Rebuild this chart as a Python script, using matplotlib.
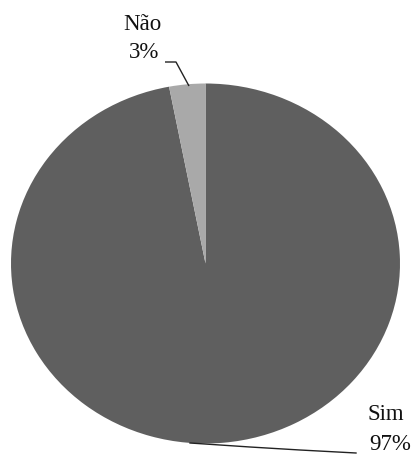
import matplotlib
matplotlib.use("Agg")
import matplotlib.pyplot as plt
import numpy as np

# Survey answer shares
categories = ["Sim", "Não"]
shares = [97, 3]
colors = ["#5f5f5f", "#a9a9a9"]

W, H, DPI = 414, 454, 100
fig = plt.figure(figsize=(W / DPI, H / DPI), dpi=DPI)
ax = fig.add_axes([0, 0, 1, 1])

ax.pie(shares, colors=colors, startangle=90, counterclock=False,
       radius=1.0, center=(0, 0), wedgeprops=dict(linewidth=0))

# Stretch the unit pie into a slightly wide ellipse
cx_px, cy_px, rx_px, ry_px = 205.5, 263.5, 194.5, 180.0
ax.set_aspect("auto")
ax.set_xlim(-cx_px / rx_px, (W - cx_px) / rx_px)
ax.set_ylim(-(H - cy_px) / ry_px, cy_px / ry_px)
ax.axis("off")


def px(x, y):
    """Pixel position (from top-left) to data coordinates."""
    return (x - cx_px) / rx_px, (cy_px - y) / ry_px


font = dict(family=["Liberation Serif", "DejaVu Serif"], fontsize=16.5,
            color="#111111", ha="center", va="center")

# "Não" label above the pie with elbow leader
ax.text(*px(142.5, 24), categories[1], **font)
ax.text(*px(144, 52), f"{shares[1]}%", **font)
pts = [px(165, 62), px(176, 62), px(189, 86)]
ax.plot([p[0] for p in pts], [p[1] for p in pts],
        color="#222222", lw=1.0, solid_capstyle="butt")

# "Sim" label at lower right with leader along the bottom
ax.text(*px(386, 415), categories[0], **font)
ax.text(*px(390, 444), f"{shares[0]}%", **font)
pts = [px(190, 443), px(250, 447), px(300, 450), px(356, 453)]
ax.plot([p[0] for p in pts], [p[1] for p in pts],
        color="#222222", lw=1.0)

fig.savefig("out.png", dpi=DPI)
